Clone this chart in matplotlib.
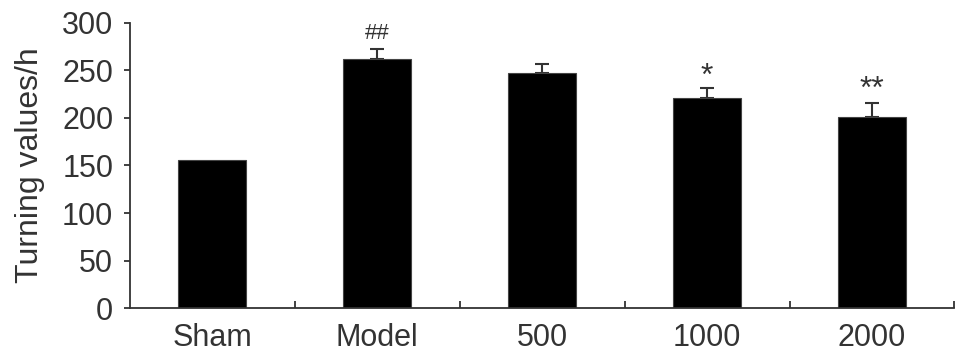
import matplotlib
matplotlib.use("Agg")
import matplotlib.pyplot as plt
import numpy as np

categories = ["Sham", "Model", "500", "1000", "2000"]
values = [156, 262, 247, 221, 201]
errors = [0, 10.5, 10, 10.5, 15]
marks = ["", "##", "", "*", "**"]
yticks = [0, 50, 100, 150, 200, 250, 300]

plt.rcParams['font.family'] = ['Liberation Sans', 'DejaVu Sans']
fig = plt.figure(figsize=(9.69, 3.59), dpi=100)
ax = fig.add_axes([0.134, 0.142, 0.851, 0.794])

c = '#333333'
x = np.arange(len(categories))
ax.bar(x, values, width=0.41, color='black', edgecolor='#444444', linewidth=0.8, zorder=2)
ax.errorbar(x[1:], values[1:], yerr=[np.zeros(len(x) - 1), errors[1:]], fmt='none',
            ecolor=c, elinewidth=1.5, capsize=4.7, capthick=1.5, zorder=1)
offsets = {"##": 1, "*": -8, "**": -6}
sizes = {"##": 16, "*": 23, "**": 23}
for xi, v, e, m in zip(x, values, errors, marks):
    if m:
        ax.text(xi, v + e + 4 + offsets[m], m, ha='center', va='bottom',
                fontsize=sizes[m], color=c)

ax.set_xlim(-0.5, len(categories) - 0.5)
ax.set_ylim(0, 300)
ax.set_yticks(yticks)
ax.set_xticks(x)
ax.set_xticklabels(categories)
ax.set_xticks(np.arange(len(categories)) + 0.5, minor=True)
ax.tick_params(axis='x', which='major', length=0, pad=11, labelsize=22, colors=c)
ax.tick_params(axis='x', which='minor', direction='in', length=5, width=1.3, color=c)
ax.tick_params(axis='y', direction='out', length=4, width=1.3, labelsize=22, colors=c, pad=8)
for s in ['top', 'right']:
    ax.spines[s].set_visible(False)
for s in ['left', 'bottom']:
    ax.spines[s].set_color(c)
    ax.spines[s].set_linewidth(1.3)
ax.set_ylabel("Turning values/h", fontsize=23, color=c, labelpad=12)

fig.savefig("out.png", dpi=100)
